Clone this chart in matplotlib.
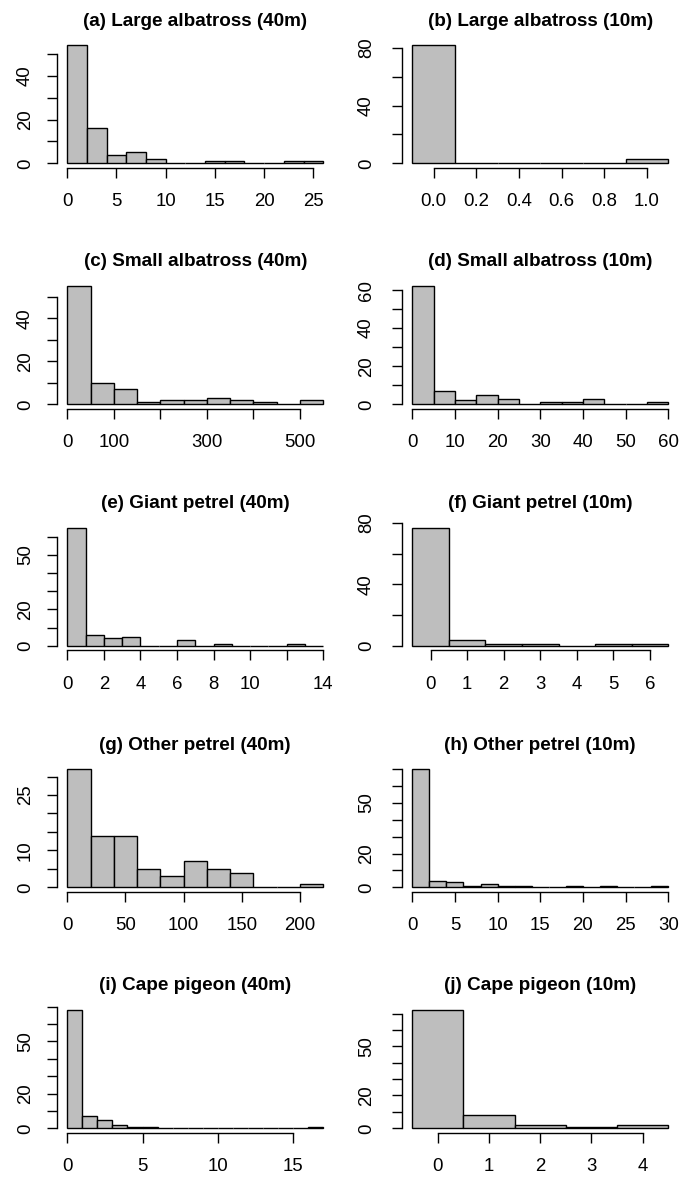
import numpy as np
import matplotlib
matplotlib.use("Agg")
import matplotlib.pyplot as plt

plt.rcParams['font.family'] = ['Liberation Sans', 'DejaVu Sans']

# ---------------- data ----------------
titles = ["(a) Large albatross (40m)", "(b) Large albatross (10m)",
          "(c) Small albatross (40m)", "(d) Small albatross (10m)",
          "(e) Giant petrel (40m)", "(f) Giant petrel (10m)",
          "(g) Other petrel (40m)", "(h) Other petrel (10m)",
          "(i) Cape pigeon (40m)", "(j) Cape pigeon (10m)"]

a_edges = [0, 2, 4, 6, 8, 10, 12, 14, 16, 18, 20, 22, 24, 26]
a_counts = [54, 16, 4, 5, 2, 0, 0, 1, 1, 0, 0, 1, 1]
b_edges = [-0.1, 0.1, 0.3, 0.5, 0.7, 0.9, 1.1]
b_counts = [82, 0, 0, 0, 0, 3]
c_edges = [0, 50, 100, 150, 200, 250, 300, 350, 400, 450, 500, 550]
c_counts = [55, 10, 7, 1, 2, 2, 3, 2, 1, 0, 2]
d_edges = [0, 5, 10, 15, 20, 25, 30, 35, 40, 45, 50, 55, 60]
d_counts = [62, 7, 2, 5, 3, 0, 1, 1, 3, 0, 0, 1]
e_edges = [0, 1, 2, 3, 4, 5, 6, 7, 8, 9, 10, 11, 12, 13, 14]
e_counts = [65, 6, 4, 5, 0, 0, 3, 0, 1, 0, 0, 0, 1, 0]
f_edges = [-0.5, 0.5, 1.5, 2.5, 3.5, 4.5, 5.5, 6.5]
f_counts = [77, 4, 1, 1, 0, 1, 1]
g_edges = [0, 20, 40, 60, 80, 100, 120, 140, 160, 180, 200, 220]
g_counts = [32, 14, 14, 5, 3, 7, 5, 4, 0, 0, 1]
h_edges = [0, 2, 4, 6, 8, 10, 12, 14, 16, 18, 20, 22, 24, 26, 28, 30]
h_counts = [70, 4, 3, 1, 2, 1, 1, 0, 0, 1, 0, 1, 0, 0, 1]
i_edges = [0, 1, 2, 3, 4, 5, 6, 7, 8, 9, 10, 11, 12, 13, 14, 15, 16, 17]
i_counts = [68, 7, 5, 2, 1, 1, 0, 0, 0, 0, 0, 0, 0, 0, 0, 0, 1]
j_edges = [-0.5, 0.5, 1.5, 2.5, 3.5, 4.5]
j_counts = [72, 8, 2, 1, 2]

a_xticks = [0, 5, 10, 15, 20, 25];          a_xlabels = ["0", "5", "10", "15", "20", "25"]
b_xticks = [0, 0.2, 0.4, 0.6, 0.8, 1.0];    b_xlabels = ["0.0", "0.2", "0.4", "0.6", "0.8", "1.0"]
c_xticks = [0, 100, 200, 300, 400, 500];    c_xlabels = ["0", "100", "", "300", "", "500"]
d_xticks = [0, 10, 20, 30, 40, 50, 60];     d_xlabels = ["0", "10", "20", "30", "40", "50", "60"]
e_xticks = [0, 2, 4, 6, 8, 10, 12, 14];     e_xlabels = ["0", "2", "4", "6", "8", "10", "", "14"]
f_xticks = [0, 1, 2, 3, 4, 5, 6];           f_xlabels = ["0", "1", "2", "3", "4", "5", "6"]
g_xticks = [0, 50, 100, 150, 200];          g_xlabels = ["0", "50", "100", "150", "200"]
h_xticks = [0, 5, 10, 15, 20, 25, 30];      h_xlabels = ["0", "5", "10", "15", "20", "25", "30"]
i_xticks = [0, 5, 10, 15];                  i_xlabels = ["0", "5", "10", "15"]
j_xticks = [0, 1, 2, 3, 4];                 j_xlabels = ["0", "1", "2", "3", "4"]

a_yticks = [0, 10, 20, 30, 40, 50];         a_ylabels = ["0", "", "20", "", "40", ""]
b_yticks = [0, 20, 40, 60, 80];             b_ylabels = ["0", "", "40", "", "80"]
c_yticks = [0, 10, 20, 30, 40, 50];         c_ylabels = ["0", "", "20", "", "40", ""]
d_yticks = [0, 10, 20, 30, 40, 50, 60];     d_ylabels = ["0", "", "20", "", "40", "", "60"]
e_yticks = [0, 10, 20, 30, 40, 50, 60];     e_ylabels = ["0", "", "20", "", "", "50", ""]
f_yticks = [0, 20, 40, 60, 80];             f_ylabels = ["0", "", "40", "", "80"]
g_yticks = [0, 5, 10, 15, 20, 25, 30];      g_ylabels = ["0", "", "10", "", "", "25", ""]
h_yticks = [0, 10, 20, 30, 40, 50, 60, 70]; h_ylabels = ["0", "", "20", "", "", "50", "", ""]
i_yticks = [0, 10, 20, 30, 40, 50, 60, 70]; i_ylabels = ["0", "", "20", "", "", "50", "", ""]
j_yticks = [0, 10, 20, 30, 40, 50, 60, 70]; j_ylabels = ["0", "", "20", "", "", "50", "", ""]

panels = [
    (a_edges, a_counts, a_xticks, a_xlabels, a_yticks, a_ylabels),
    (b_edges, b_counts, b_xticks, b_xlabels, b_yticks, b_ylabels),
    (c_edges, c_counts, c_xticks, c_xlabels, c_yticks, c_ylabels),
    (d_edges, d_counts, d_xticks, d_xlabels, d_yticks, d_ylabels),
    (e_edges, e_counts, e_xticks, e_xlabels, e_yticks, e_ylabels),
    (f_edges, f_counts, f_xticks, f_xlabels, f_yticks, f_ylabels),
    (g_edges, g_counts, g_xticks, g_xlabels, g_yticks, g_ylabels),
    (h_edges, h_counts, h_xticks, h_xlabels, h_yticks, h_ylabels),
    (i_edges, i_counts, i_xticks, i_xlabels, i_yticks, i_ylabels),
    (j_edges, j_counts, j_xticks, j_xlabels, j_yticks, j_ylabels),
]

# ---------------- layout ----------------
W, H = 680, 1178
fig = plt.figure(figsize=(W / 100, H / 100), dpi=100)

col_left = [57, 402]          # plot-region left edge (px)
reg_w = 276.5
row_bottom = [168, 409, 650.4, 892, 1133]   # plot-region bottom (px from top)
reg_h = 127.5
ylab_pad = [15.5, 18.5]

fs = 13.4
for k, (edges, counts, xt, xl, yt, yl) in enumerate(panels):
    r, c = divmod(k, 2)
    ax = fig.add_axes([col_left[c] / W, 1 - row_bottom[r] / H, reg_w / W, reg_h / H])
    edges = np.asarray(edges, dtype=float)
    counts = np.asarray(counts, dtype=float)
    ax.bar(edges[:-1], counts, width=np.diff(edges), align='edge',
           color='#BEBEBE', edgecolor='black', linewidth=1.0)
    span = edges[-1] - edges[0]
    ax.set_xlim(edges[0] - 0.04 * span, edges[-1] + 0.04 * span)
    ymax = counts.max()
    ax.set_ylim(-0.04 * ymax, 1.04 * ymax)
    for s in ['top', 'right']:
        ax.spines[s].set_visible(False)
    ax.spines['left'].set_bounds(yt[0], yt[-1])
    ax.spines['bottom'].set_bounds(xt[0], xt[-1])
    for s in ['left', 'bottom']:
        ax.spines[s].set_linewidth(1.0)
    ax.set_xticks(xt, xl, fontsize=fs)
    ax.set_yticks(yt, yl, fontsize=fs, rotation=90, va='center', ha='center')
    ax.tick_params(axis='x', direction='out', length=7.2, width=1.0, pad=11)
    ax.tick_params(axis='y', direction='out', length=7.2, width=1.0, pad=ylab_pad[c])
    ax.set_facecolor('none')
    ax.set_title(titles[k], fontsize=13.6, fontweight='bold', pad=10.8)

fig.savefig("out.png", dpi=100)
